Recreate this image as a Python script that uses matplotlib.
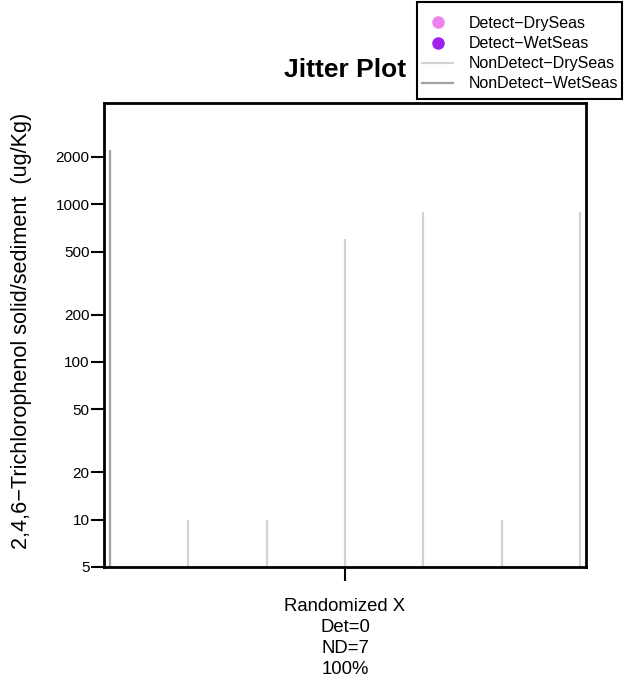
import matplotlib
matplotlib.use("Agg")
import matplotlib.pyplot as plt
from matplotlib.lines import Line2D
from matplotlib.patches import Rectangle

plt.rcParams['font.family'] = ['Liberation Sans', 'DejaVu Sans']

# jittered x positions, values and season of each non-detect sample
x_pos = [0, 1, 2, 3, 4, 5, 6]
values = [2200, 10, 10, 600, 900, 10, 900]
season = ['Wet', 'Dry', 'Dry', 'Dry', 'Dry', 'Dry', 'Dry']

y_ticks = [5, 10, 20, 50, 100, 200, 500, 1000, 2000]
x_label = "Randomized X\nDet=0\nND=7\n100%"
y_label = "2,4,6\u2212Trichlorophenol solid/sediment  (ug/Kg)"

legend_labels = ["Detect\u2212DrySeas", "Detect\u2212WetSeas",
                 "NonDetect\u2212DrySeas", "NonDetect\u2212WetSeas"]
colors = {'Dry': '#D3D3D3', 'Wet': '#A3A3A3'}

W, H = 624, 690
fig = plt.figure(figsize=(W / 100, H / 100), dpi=100)
ax = fig.add_axes([104/W, 1 - 567/H, 482/W, 464/H])

for x, v, s in zip(x_pos, values, season):
    ax.vlines(x, 5, v, colors=colors[s], lw=1.6)

ax.set_yscale('log')
ax.set_ylim(5, 4400)
ax.set_xlim(-0.077, 6.077)
ax.set_yticks(y_ticks)
ax.set_yticklabels([str(t) for t in y_ticks])
ax.yaxis.set_minor_locator(matplotlib.ticker.NullLocator())
ax.set_xticks([3])
ax.set_xticklabels([x_label], linespacing=1.32)
ax.tick_params(axis='y', labelsize=11, length=9.5, width=1.5, pad=1)
ax.tick_params(axis='x', labelsize=13.3, length=10, width=1.5, pad=12)
for sp in ax.spines.values():
    sp.set_linewidth(2)

fig.text(22/W, 1 - 331/H, y_label, fontsize=15.6, rotation=90,
         ha='center', va='center')

fig.text(345/W, 1 - 77/H, "Jitter Plot", fontsize=19, fontweight='bold',
         ha='center', va='baseline')

# legend box drawn separately so the padding can match
fig.patches.append(Rectangle((417/W, 1 - 99/H), 205/W, 97/H,
                             transform=fig.transFigure, fill=True,
                             facecolor='white', edgecolor='black', lw=1.5,
                             zorder=3))
handles = [
    Line2D([], [], ls='none', marker='o', ms=8, color='#EE82EE'),
    Line2D([], [], ls='none', marker='o', ms=8, color='#A020F0'),
    Line2D([], [], color=colors['Dry'], lw=1.6),
    Line2D([], [], color=colors['Wet'], lw=1.6),
]
leg = fig.legend(handles, legend_labels, loc='upper left',
                 bbox_to_anchor=(422/W, 1 - 16/H), fontsize=11.5,
                 frameon=False, borderaxespad=0, borderpad=0,
                 handlelength=1.95, handletextpad=0.95, labelspacing=0.32)
leg.set_zorder(4)

fig.savefig("out.png", dpi=100)
